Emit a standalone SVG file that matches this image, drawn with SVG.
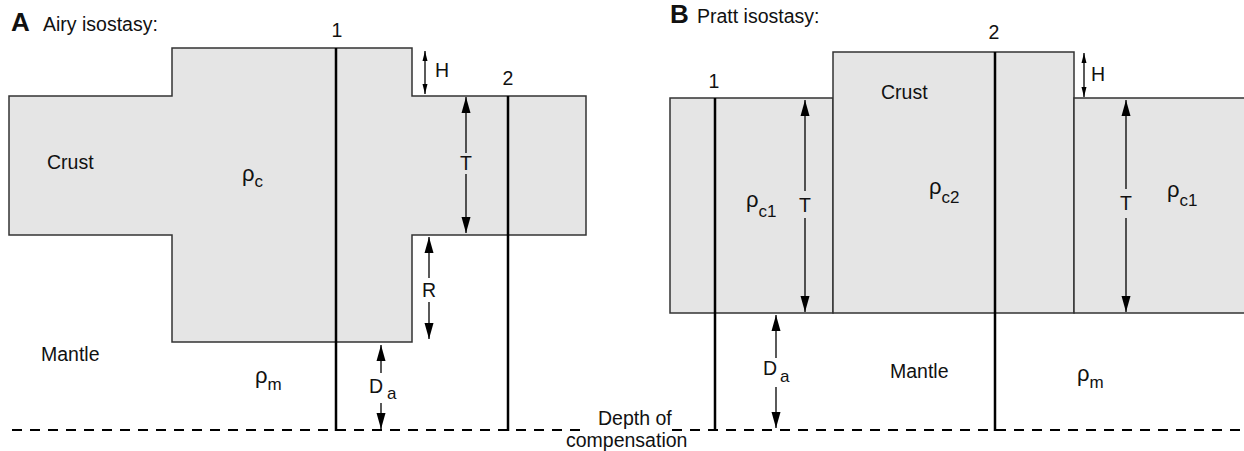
<svg xmlns="http://www.w3.org/2000/svg" width="1244" height="451" viewBox="0 0 1244 451">
  <style>
    text { font-family: "Liberation Sans", Arial, Helvetica, sans-serif; fill: #111; font-size: 19.5px; }
    .title { font-weight: bold; font-size: 26px; }
    .rho { font-size: 22px; }
    .sub { font-size: 17px; }
    .crust { fill: #e5e5e5; stroke: #333; stroke-width: 1.5; }
    .probe { stroke: #000; stroke-width: 2.5; fill: none; }
    .dash { stroke: #000; stroke-width: 2; stroke-dasharray: 10 8; fill: none; }
    .arr { stroke: #000; stroke-width: 1.3; fill: none; }
    .big { marker-end: url(#big); }
    .small { marker-start: url(#small); marker-end: url(#small); }
  </style>
  <defs>
    <marker id="big" markerUnits="userSpaceOnUse" markerWidth="18" markerHeight="12" viewBox="0 -6 18 12" refX="16" refY="0" orient="auto">
      <path d="M0,-4.5 L16,0 L0,4.5 z" fill="#000"/>
    </marker>
    <marker id="small" markerUnits="userSpaceOnUse" markerWidth="12" markerHeight="8" viewBox="0 -4 12 8" refX="10" refY="0" orient="auto-start-reverse">
      <path d="M0,-2.5 L10,0 L0,2.5 z" fill="#000"/>
    </marker>
  </defs>

  <!-- Panel A -->
  <g id="title-A">
    <text class="title" x="11" y="31">A</text>
    <text x="43" y="31">Airy isostasy:</text>
  </g>
  <g id="crust-A">
    <path class="crust" d="M9,96 H172 V48 H412 V96 H586 V235 H412 V342 H172 V235 H9 Z"/>
    <text x="47" y="169">Crust</text>
    <text class="rho" x="242" y="181">ρ<tspan class="sub" dy="6">c</tspan></text>
  </g>
  <g id="mantle-A">
    <text x="41" y="361">Mantle</text>
    <text class="rho" x="255" y="383">ρ<tspan class="sub" dy="7">m</tspan></text>
  </g>
  <g id="column-A1">
    <line class="probe" x1="336" y1="48" x2="336" y2="431"/>
    <text x="337" y="37" text-anchor="middle">1</text>
  </g>
  <g id="column-A2">
    <line class="probe" x1="508" y1="96" x2="508" y2="431"/>
    <text x="508" y="85" text-anchor="middle">2</text>
  </g>

  <!-- Panel B -->
  <g id="title-B">
    <text class="title" x="670" y="23">B</text>
    <text x="697" y="23">Pratt isostasy:</text>
  </g>
  <g id="crust-B-left">
    <rect class="crust" x="670" y="98" width="163" height="215"/>
    <text class="rho" x="746" y="207">ρ<tspan class="sub" dy="10">c1</tspan></text>
  </g>
  <g id="crust-B-mid">
    <rect class="crust" x="833" y="52" width="241" height="261"/>
    <text x="881" y="99">Crust</text>
    <text class="rho" x="929" y="194">ρ<tspan class="sub" dy="9">c2</tspan></text>
  </g>
  <g id="crust-B-right">
    <rect class="crust" x="1074" y="98" width="180" height="215"/>
    <text class="rho" x="1167" y="197">ρ<tspan class="sub" dy="9">c1</tspan></text>
  </g>
  <g id="mantle-B">
    <text x="890" y="378">Mantle</text>
    <text class="rho" x="1077" y="381">ρ<tspan class="sub" dy="7">m</tspan></text>
  </g>
  <g id="column-B1">
    <line class="probe" x1="715" y1="98" x2="715" y2="431"/>
    <text x="714" y="88" text-anchor="middle">1</text>
  </g>
  <g id="column-B2">
    <line class="probe" x1="995" y1="52" x2="995" y2="431"/>
    <text x="994" y="39" text-anchor="middle">2</text>
  </g>

  <!-- Depth of compensation -->
  <g id="compensation">
    <line class="dash" x1="12" y1="430" x2="588" y2="430"/>
    <line class="dash" x1="672" y1="430" x2="1244" y2="430"/>
    <text x="598" y="425">Depth of</text>
    <text x="566" y="447">compensation</text>
  </g>

  <!-- Connectors / dimension arrows -->
  <g id="connectors">
    <!-- A: H -->
    <line class="arr small" x1="425" y1="51" x2="425" y2="94"/>
    <text x="435" y="77">H</text>
    <!-- A: T -->
    <line class="arr big" x1="466" y1="153" x2="466" y2="97"/>
    <line class="arr big" x1="466" y1="174" x2="466" y2="233"/>
    <text x="466" y="170" text-anchor="middle">T</text>
    <!-- A: R -->
    <line class="arr big" x1="429" y1="278" x2="429" y2="237"/>
    <line class="arr big" x1="429" y1="302" x2="429" y2="339"/>
    <text x="429" y="297" text-anchor="middle">R</text>
    <!-- A: Da -->
    <line class="arr big" x1="381" y1="373" x2="381" y2="345"/>
    <line class="arr big" x1="381" y1="403" x2="381" y2="429"/>
    <text x="369" y="393">D</text>
    <text class="sub" x="387" y="399">a</text>

    <!-- B: H -->
    <line class="arr small" x1="1084" y1="53" x2="1084" y2="97"/>
    <text x="1091" y="81">H</text>
    <!-- B: T left -->
    <line class="arr big" x1="805" y1="191" x2="805" y2="100"/>
    <line class="arr big" x1="805" y1="218" x2="805" y2="312"/>
    <text x="805" y="212" text-anchor="middle">T</text>
    <!-- B: T right -->
    <line class="arr big" x1="1126" y1="189" x2="1126" y2="100"/>
    <line class="arr big" x1="1126" y1="218" x2="1126" y2="312"/>
    <text x="1126" y="210" text-anchor="middle">T</text>
    <!-- B: Da -->
    <line class="arr big" x1="776" y1="358" x2="776" y2="315"/>
    <line class="arr big" x1="776" y1="387" x2="776" y2="428"/>
    <text x="763" y="375">D</text>
    <text class="sub" x="780" y="382">a</text>
  </g>
</svg>
